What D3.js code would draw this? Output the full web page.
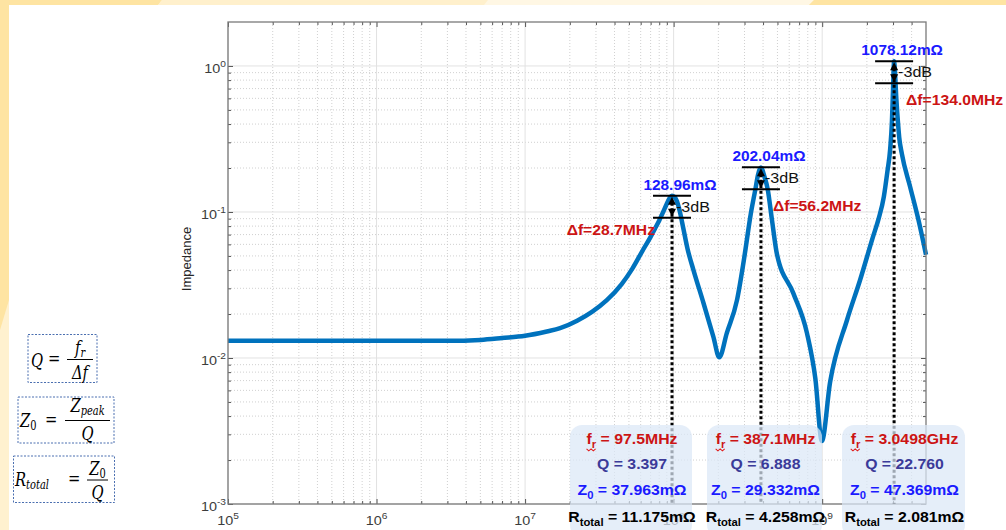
<!DOCTYPE html>
<html>
<head>
<meta charset="utf-8">
<script src="https://cdn.jsdelivr.net/npm/d3@7"></script>
<style>
  html, body { margin: 0; padding: 0; background: #fff; }
  svg { display: block; }
</style>
</head>
<body>
<svg id="chart" width="1006" height="530"></svg>
<script>
// impedance curve (Hz, Ohm)
const freqHz = [1e5, 3e5, 1e6, 2e6, 3e6, 5e6, 7e6, 1e7, 1.4e7, 1.72e7, 2.24e7, 2.82e7, 3.55e7, 4.47e7,
  5.25e7, 6.17e7, 7.0e7, 7.5e7, 8.0e7, 8.5e7, 9.0e7, 9.4e7, 9.75e7, 1.01e8, 1.05e8, 1.1e8, 1.16e8,
  1.24e8, 1.36e8, 1.59e8, 1.85e8, 2.03e8, 2.28e8, 2.67e8, 3.0e8, 3.3e8, 3.55e8, 3.7e8, 3.8e8,
  3.871e8, 3.95e8, 4.05e8, 4.3e8, 4.6e8, 4.95e8, 6.4e8, 7.9e8, 9.0e8, 9.95e8, 1.13e9, 1.47e9,
  1.8e9, 2.2e9, 2.4e9, 2.6e9, 2.75e9, 2.87e9, 2.95e9, 3.0e9, 3.0498e9, 3.1e9, 3.15e9, 3.2e9,
  3.25e9, 3.3e9, 3.44e9, 3.9e9, 4.45e9, 5.0e9];
const impedanceOhm = [0.0131, 0.0131, 0.0131, 0.0131, 0.0131, 0.0133, 0.0137, 0.0142, 0.0152, 0.0160,
  0.0180, 0.0207, 0.0249, 0.0321, 0.0406, 0.0542, 0.0675, 0.077, 0.0875, 0.100, 0.114, 0.1245,
  0.129, 0.127, 0.119, 0.101, 0.078, 0.056, 0.040, 0.0237, 0.0140, 0.0101, 0.0148, 0.0249,
  0.050, 0.096, 0.143, 0.180, 0.197, 0.202, 0.196, 0.180, 0.143, 0.087, 0.052, 0.0277, 0.0148,
  0.0072, 0.0027, 0.0068, 0.0182, 0.0342, 0.0678, 0.090, 0.127, 0.19, 0.27, 0.42, 0.70, 1.078,
  0.86, 0.62, 0.48, 0.39, 0.325, 0.25, 0.15, 0.088, 0.051];

// resonance annotations
const peakFreqHz = [97.5e6, 387.1e6, 3.0498e9];
const peakZOhm = [0.12896, 0.20204, 1.07812];
const peakLabels = ["128.96mΩ", "202.04mΩ", "1078.12mΩ"];
const deltaFLabels = ["Δf=28.7MHz", "Δf=56.2MHz", "Δf=134.0MHz"];
const frLabels = ["97.5MHz", "387.1MHz", "3.0498GHz"];
const qLabels = ["3.397", "6.888", "22.760"];
const z0Labels = ["37.963mΩ", "29.332mΩ", "47.369mΩ"];
const rTotalLabels = ["11.175mΩ", "4.258mΩ", "2.081mΩ"];

const xMajor = [1e5, 1e6, 1e7, 1e8, 1e9];
const yMajor = [1e-3, 1e-2, 1e-1, 1e0];

const svg = d3.select("#chart");
const L = 228, R = 926, T = 22, B = 504;

const x = d3.scaleLog().domain([1e5, 5e9]).range([L, R]);
const y = d3.scaleLog().domain([1e-3, 2]).range([B, T]);

const xMinor = [], yMinor = [];
xMajor.forEach(d => { for (let k = 2; k <= 9; k++) if (d * k < 5e9 * 0.999) xMinor.push(d * k); });
yMajor.forEach(d => { for (let k = 2; k <= 9; k++) if (d * k < 2 * 0.999) yMinor.push(d * k); });

// slide background
svg.append("rect").attr("width", 1006).attr("height", 530).attr("fill", "#fff1cf");
svg.append("polygon").attr("points", "0,0 9,0 9,300 0,330").attr("fill", "#fee4a2");
svg.append("polygon").attr("points", "0,0 162,0 158,5 0,5").attr("fill", "#fee4a2");
svg.append("polygon").attr("points", "162,0 488,0 484,5 158,5").attr("fill", "#fff0cc");
svg.append("polygon").attr("points", "488,0 814,0 809,5 484,5").attr("fill", "#fff7e4");
svg.append("polygon").attr("points", "814,0 1006,0 1006,5 809,5").attr("fill", "#fee4a2");
svg.append("rect").attr("x", 9).attr("y", 5).attr("width", 997).attr("height", 525).attr("fill", "#fff");

// text helper: horizontally stretched text with optional sub/superscripts
function label(parent, px, py, parts, o) {
  const g = parent.append("g").attr("transform", `translate(${px},${py}) scale(${o.sx || 1},1)`);
  const t = g.append("text")
    .attr("text-anchor", o.anchor || "middle")
    .style("font-family", o.family || "'Liberation Sans', Arial, sans-serif")
    .style("font-size", (o.size || 14) + "px")
    .style("font-weight", o.weight || "normal")
    .style("font-style", o.italic ? "italic" : "normal")
    .attr("fill", o.fill || "#000");
  let shift = 0;
  parts.forEach(p => {
    const s = typeof p === "string" ? { text: p, dy: 0 } : p;
    const span = t.append("tspan").attr("dy", (s.dy || 0) - shift).text(s.text);
    if (s.size) span.style("font-size", s.size + "px");
    if (s.upright) span.style("font-style", "normal");
    shift = s.dy || 0;
  });
  return { g, t };
}

// grid
const grid = svg.append("g");
grid.selectAll(".xminor").data(xMinor).join("line")
  .attr("x1", d => x(d)).attr("x2", d => x(d)).attr("y1", T).attr("y2", B)
  .attr("stroke", "#c4c4c4").attr("stroke-width", 0.8).attr("stroke-dasharray", "1,2");
grid.selectAll(".yminor").data(yMinor).join("line")
  .attr("x1", L).attr("x2", R).attr("y1", d => y(d)).attr("y2", d => y(d))
  .attr("stroke", "#c4c4c4").attr("stroke-width", 0.8).attr("stroke-dasharray", "1,2");
grid.selectAll(".xmajor").data(xMajor).join("line")
  .attr("x1", d => x(d)).attr("x2", d => x(d)).attr("y1", T).attr("y2", B)
  .attr("stroke", "#e2e2e2").attr("stroke-width", 1);
grid.selectAll(".ymajor").data(yMajor).join("line")
  .attr("x1", L).attr("x2", R).attr("y1", d => y(d)).attr("y2", d => y(d))
  .attr("stroke", "#e2e2e2").attr("stroke-width", 1);

// curve
const pts = freqHz.map((f, i) => ({ f, z: impedanceOhm[i] }));
svg.append("path")
  .datum(pts)
  .attr("fill", "none")
  .attr("stroke", "#0072bd")
  .attr("stroke-width", 4.5)
  .attr("stroke-linejoin", "round")
  .attr("d", d3.line().x(d => x(d.f)).y(d => y(d.z)).curve(d3.curveMonotoneX));

// axes: ticks inside on all four sides
function styleAxis(sel) {
  sel.select(".domain").remove();
  sel.selectAll("line").attr("stroke", "#555");
}
const noLabel = () => "";
svg.append("g").attr("transform", `translate(0,${B})`)
  .call(d3.axisBottom(x).tickValues(xMajor).tickSize(-5).tickFormat(noLabel)).call(styleAxis);
svg.append("g").attr("transform", `translate(0,${B})`)
  .call(d3.axisBottom(x).tickValues(xMinor).tickSize(-3).tickFormat(noLabel)).call(styleAxis);
svg.append("g").attr("transform", `translate(0,${T})`)
  .call(d3.axisTop(x).tickValues(xMajor).tickSize(-5).tickFormat(noLabel)).call(styleAxis);
svg.append("g").attr("transform", `translate(0,${T})`)
  .call(d3.axisTop(x).tickValues(xMinor).tickSize(-3).tickFormat(noLabel)).call(styleAxis);
svg.append("g").attr("transform", `translate(${L},0)`)
  .call(d3.axisLeft(y).tickValues(yMajor).tickSize(-5).tickFormat(noLabel)).call(styleAxis);
svg.append("g").attr("transform", `translate(${L},0)`)
  .call(d3.axisLeft(y).tickValues(yMinor).tickSize(-3).tickFormat(noLabel)).call(styleAxis);
svg.append("g").attr("transform", `translate(${R},0)`)
  .call(d3.axisRight(y).tickValues(yMajor).tickSize(-5).tickFormat(noLabel)).call(styleAxis);
svg.append("g").attr("transform", `translate(${R},0)`)
  .call(d3.axisRight(y).tickValues(yMinor).tickSize(-3).tickFormat(noLabel)).call(styleAxis);

svg.append("rect").attr("x", L).attr("y", T).attr("width", R - L).attr("height", B - T)
  .attr("fill", "none").attr("stroke", "#7a7a7a").attr("stroke-width", 1.3);

// tick labels
const tickStyle = { size: 12, sx: 1.2, fill: "#3c3c3c" };
xMajor.forEach(d => {
  label(svg, x(d), 525, ["10", { text: String(Math.round(Math.log10(d))), dy: -6, size: 8.5 }], tickStyle);
});
yMajor.forEach(d => {
  label(svg, 226, y(d) + 7, ["10", { text: String(Math.round(Math.log10(d))), dy: -6, size: 8.5 }],
    Object.assign({ anchor: "end" }, tickStyle));
});

svg.append("text")
  .attr("transform", `translate(191,259) rotate(-90)`)
  .attr("text-anchor", "middle")
  .style("font-family", "'Liberation Sans', Arial, sans-serif")
  .style("font-size", "13px")
  .attr("fill", "#262626")
  .text("Impedance");

// peak / -3dB markers
const ann = svg.append("g");
const dfSide = ["left", "right", "right"];
peakFreqHz.forEach((f, i) => {
  const px = x(f);
  const yPeak = y(peakZOhm[i]);
  const y3 = y(peakZOhm[i] / Math.SQRT2);

  ann.append("line").attr("x1", px).attr("x2", px).attr("y1", yPeak + 7).attr("y2", B)
    .attr("stroke", "#000").attr("stroke-width", 3).attr("stroke-dasharray", "3,2.5");
  ann.append("line").attr("x1", px - 19).attr("x2", px + 19).attr("y1", yPeak).attr("y2", yPeak)
    .attr("stroke", "#000").attr("stroke-width", 2);
  ann.append("line").attr("x1", px - 19).attr("x2", px + 19).attr("y1", y3).attr("y2", y3)
    .attr("stroke", "#000").attr("stroke-width", 2);
  ann.append("path").attr("d", `M${px},${yPeak + 1} l-4,8 l8,0 z`).attr("fill", "#000");
  ann.append("path").attr("d", `M${px},${y3 - 1} l-4,-8 l8,0 z`).attr("fill", "#000");

  label(ann, px + 8, yPeak - 6, [peakLabels[i]], { size: 14, sx: 1.1, weight: "bold", fill: "#1a1aff" });
  label(ann, px + 4, (yPeak + y3) / 2 + 5, ["-3dB"], { size: 14, sx: 1.15, anchor: "start", fill: "#111" });
  if (dfSide[i] === "left") {
    label(ann, px - 17, y3 + 17, [deltaFLabels[i]], { size: 14, sx: 1.12, anchor: "end", weight: "bold", fill: "#cc1414" });
  } else {
    label(ann, px + 12, y3 + 22, [deltaFLabels[i]], { size: 14, sx: 1.12, anchor: "start", weight: "bold", fill: "#cc1414" });
  }
});

// result boxes
const boxLeft = [570, 707, 842];
const boxRight = [692, 822, 965];
const boxes = svg.append("g");
boxLeft.forEach((bx, i) => {
  boxes.append("rect").attr("x", bx).attr("y", 425).attr("width", boxRight[i] - bx).attr("height", 112)
    .attr("rx", 12).attr("fill", "#dbe8f6").attr("opacity", 0.72);
  const cx = (bx + boxRight[i]) / 2 + 1;
  const bold = { size: 14, sx: 1.13, weight: "bold" };
  const fr = label(boxes, cx, 444, ["f", { text: "r", dy: 4, size: 10 }, " = " + frLabels[i]],
    Object.assign({ fill: "#cc1414" }, bold));
  // red wavy underline under the subscript
  const ext = fr.t.node().getExtentOfChar(0);
  let wave = `M${ext.x},${ext.y + ext.height + 2}`;
  for (let k = 0; k < 4; k++) wave += ` l2,${k % 2 ? -2 : 2}`;
  fr.g.append("path").attr("d", wave).attr("fill", "none").attr("stroke", "#e02020").attr("stroke-width", 0.9);
  label(boxes, cx, 469, ["Q = " + qLabels[i]], Object.assign({ fill: "#3b3b99" }, bold));
  label(boxes, cx, 495, ["Z", { text: "0", dy: 4, size: 10 }, " = " + z0Labels[i]], Object.assign({ fill: "#1a1aff" }, bold));
  label(boxes, cx, 522, ["R", { text: "total", dy: 4, size: 10 }, " = " + rTotalLabels[i]], Object.assign({ fill: "#000" }, bold));
});

// formula boxes on the left
const fx = svg.append("g");
const serif = { family: "'DejaVu Serif', 'Liberation Serif', serif", italic: true, anchor: "start", sx: 0.82, size: 18 };
const upright = Object.assign({}, serif, { italic: false });
const centred = Object.assign({}, serif, { anchor: "middle" });
const eqBox = (x0, y0, w, h) => fx.append("rect").attr("x", x0).attr("y", y0).attr("width", w).attr("height", h)
  .attr("fill", "none").attr("stroke", "#4a6fb0").attr("stroke-width", 1).attr("stroke-dasharray", "2,1.5");
const bar = (x1, x2, yy) => fx.append("line").attr("x1", x1).attr("x2", x2).attr("y1", yy).attr("y2", yy)
  .attr("stroke", "#000").attr("stroke-width", 1);

eqBox(28, 334.5, 69, 48);
label(fx, 31, 367, ["Q"], serif);
label(fx, 48, 365, ["="], upright);
bar(67, 93, 359.5);
label(fx, 80, 354, ["f", { text: "r", dy: 3, size: 12 }], centred);
label(fx, 80, 379, ["Δf"], centred);

eqBox(18, 397, 96, 46);
label(fx, 20, 427, ["Z", { text: "0", dy: 3, size: 12, upright: true }], serif);
label(fx, 45, 426, ["="], upright);
bar(65, 110, 420.5);
label(fx, 87.5, 412, ["Z", { text: "peak", dy: 3, size: 12 }], centred);
label(fx, 87.5, 440, ["Q"], centred);

eqBox(13.5, 456, 101, 46.5);
label(fx, 15, 486, ["R", { text: "total", dy: 3, size: 12 }], serif);
label(fx, 68, 485, ["="], upright);
bar(87, 108, 480);
label(fx, 97.5, 475, ["Z", { text: "0", dy: 3, size: 12, upright: true }], centred);
label(fx, 97.5, 499, ["Q"], centred);
</script>
</body>
</html>
